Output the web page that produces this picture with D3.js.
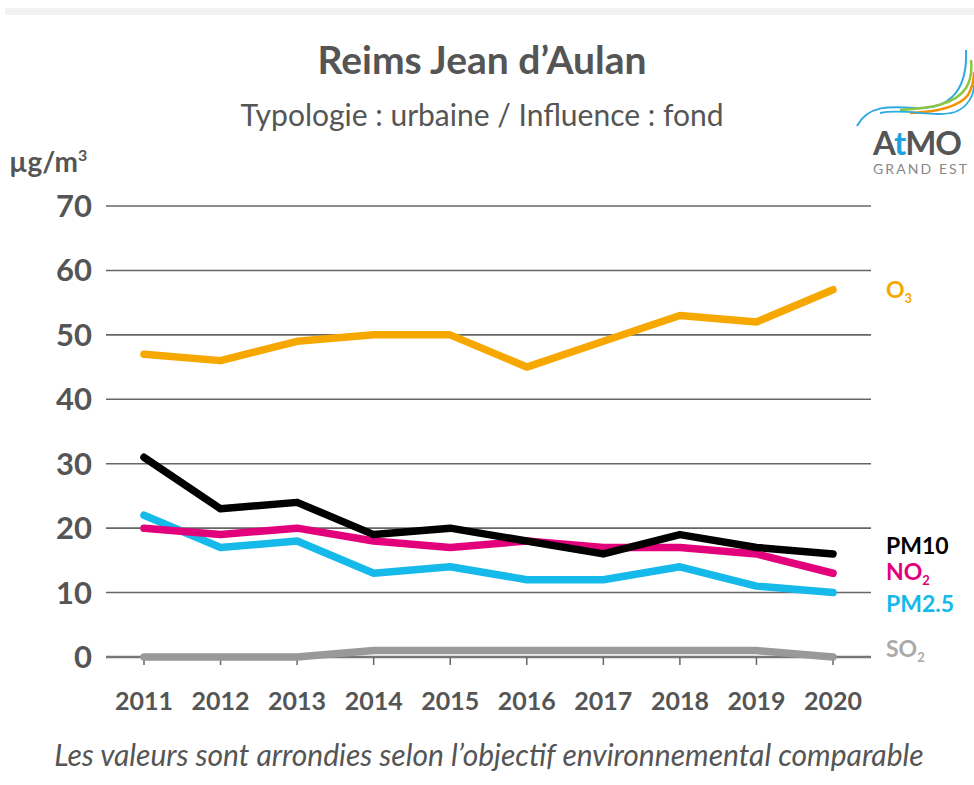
<!DOCTYPE html>
<html><head><meta charset="utf-8">
<script src="https://cdn.jsdelivr.net/npm/d3@7"></script>
<style>html,body{margin:0;padding:0;background:#fff;}svg{display:block;font-family:Lato,"Open Sans",sans-serif;}</style>
</head><body>
<svg id="chart" width="974" height="785"></svg>
<script>
const years = [2011,2012,2013,2014,2015,2016,2017,2018,2019,2020];
const o3    = [47,46,49,50,50,45,49,53,52,57];
const pm10  = [31,23,24,19,20,18,16,19,17,16];
const no2   = [20,19,20,18,17,18,17,17,16,13];
const pm25  = [22,17,18,13,14,12,12,14,11,10];
const so2   = [0,0,0,1,1,1,1,1,1,0];
const yTicks = [0,10,20,30,40,50,60,70];

const svg = d3.select("#chart");
const x = d3.scalePoint().domain(years).range([144,833]);
const y = d3.scaleLinear().domain([0,70]).range([657,206]);
const gridX0 = 106, gridX1 = 871;

// top band
svg.append("rect").attr("x",5).attr("y",8).attr("width",969).attr("height",7).attr("fill","#f2f2f2");

// titles
svg.append("text").attr("x",482).attr("y",74).attr("text-anchor","middle")
  .attr("font-size",39).attr("font-weight",700).attr("fill","#555").text("Reims Jean d’Aulan");
svg.append("text").attr("x",482).attr("y",126).attr("text-anchor","middle")
  .attr("font-size",30).attr("fill","#555").text("Typologie : urbaine /  Influence : fond");
const u = svg.append("text").attr("x",9).attr("y",172).attr("font-size",28).attr("font-weight",700).attr("fill","#555");
u.append("tspan").text("µg/m");
u.append("tspan").attr("font-size",16).attr("dy",-11).text("3");

// gridlines
svg.append("g").selectAll("line").data(yTicks).join("line")
  .attr("x1",gridX0).attr("x2",gridX1).attr("y1",d=>y(d)).attr("y2",d=>y(d))
  .attr("stroke",d=>d===0?"#777":"#666").attr("stroke-width",d=>d===0?2.5:1.6);

// y labels
svg.append("g").selectAll("text").data(yTicks).join("text")
  .attr("x",92).attr("y",d=>y(d)+11).attr("text-anchor","end")
  .attr("font-size",31).attr("font-weight",700).attr("fill","#555").text(d=>d);

// x ticks
svg.append("g").selectAll("line").data(years).join("line")
  .attr("x1",d=>x(d)).attr("x2",d=>x(d)).attr("y1",657).attr("y2",665)
  .attr("stroke","#666").attr("stroke-width",1.5);
svg.append("g").selectAll("text").data(years).join("text")
  .attr("x",d=>x(d)).attr("y",710).attr("text-anchor","middle")
  .attr("font-size",25).attr("font-weight",700).attr("fill","#555").text(d=>d);

// lines
const line = d3.line().x((d,i)=>x(years[i])).y(d=>y(d));
const series = [
  {v:so2, c:"#999999"},
  {v:o3, c:"#F6A800"},
  {v:pm25, c:"#15B9EA"},
  {v:no2, c:"#E3007B"},
  {v:pm10, c:"#000000"}
];
svg.append("g").selectAll("path").data(series).join("path")
  .attr("d",d=>line(d.v)).attr("fill","none").attr("stroke",d=>d.c)
  .attr("stroke-width",7.5).attr("stroke-linejoin","round").attr("stroke-linecap","round");

// right labels
function lab(txt, sub, yy, col){
  const t = svg.append("text").attr("x",886).attr("y",yy).attr("font-size",23).attr("font-weight",700).attr("fill",col);
  t.append("tspan").text(txt);
  if(sub) t.append("tspan").attr("font-size",13).attr("dy",5).text(sub);
}
lab("O","3",298,"#F6A800");
lab("PM10",null,554,"#000");
lab("NO","2",580,"#E3007B");
lab("PM2.5",null,612,"#15B9EA");
lab("SO","2",657,"#aaa");

// footer
svg.append("text").attr("x",489).attr("y",766).attr("text-anchor","middle")
  .attr("font-size",30).attr("font-style","italic").attr("fill","#555")
  .text("Les valeurs sont arrondies selon l’objectif environnemental comparable");

// logo
const lg = svg.append("g");
lg.append("path").attr("d","M857,126 C868,105 890,106 915,108 C945,110 968,95 966,50")
  .attr("fill","none").attr("stroke","#2EAAE1").attr("stroke-width",2);
lg.append("path").attr("d","M900,110 C930,108 955,105 966,88 C971,80 972,70 971,60")
  .attr("fill","none").attr("stroke","#8DC63F").attr("stroke-width",2.5);
lg.append("path").attr("d","M910,113 C935,112 958,108 968,95 C972,88 974,80 974,72")
  .attr("fill","none").attr("stroke","#F39200").attr("stroke-width",2.5);
lg.append("path").attr("d","M880,113 C905,108 935,118 955,112 C968,107 974,95 974,85")
  .attr("fill","none").attr("stroke","#2EAAE1").attr("stroke-width",1.8);
const at = lg.append("text").attr("x",873).attr("y",155).attr("font-size",33).attr("font-weight",700).attr("fill","#555").attr("letter-spacing",-1);
at.append("tspan").text("A");
at.append("tspan").attr("fill","#1FA3DC").text("t");
at.append("tspan").text("MO");
lg.append("text").attr("x",873).attr("y",174).attr("font-size",14).attr("fill","#888").attr("textLength",94).text("GRAND EST");
</script>
</body></html>
